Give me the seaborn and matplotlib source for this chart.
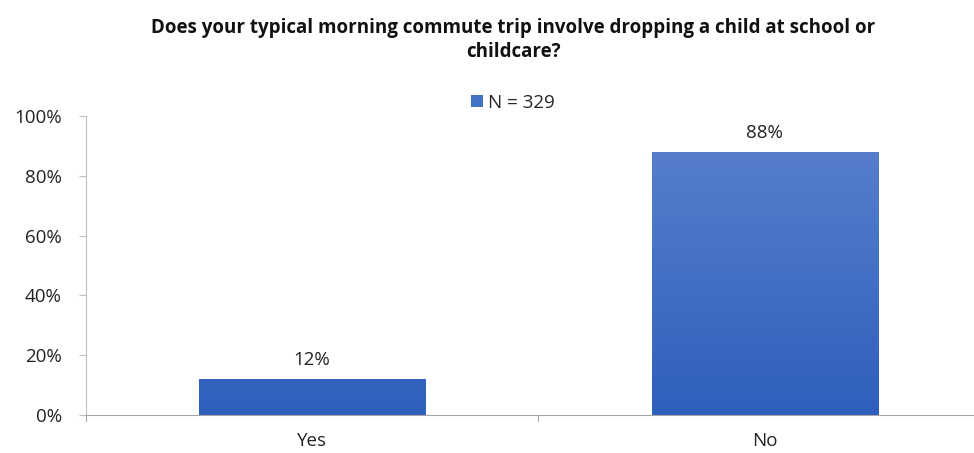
import matplotlib
matplotlib.use("Agg")
import matplotlib.pyplot as plt
import matplotlib.colors as mcolors
import numpy as np
import pandas as pd
import seaborn as sns

categories = ["Yes", "No"]
shares = [12, 88]
series_label = "N = 329"
title = "Does your typical morning commute trip involve dropping a child at school or\nchildcare?"

df = pd.DataFrame({"answer": categories, "share": shares})

sns.set_style("white")
plt.rcParams["font.family"] = ["Open Sans", "DejaVu Sans"]

fig = plt.figure(figsize=(9.74, 4.53), dpi=100)
ax = fig.add_axes([0.0878, 0.084, 0.930, 0.66])

sns.barplot(data=df, x="answer", y="share", color="#4472C4", width=0.5,
            ax=ax, label=series_label, saturation=1)

# gradient fill for each bar (lighter at top, darker at bottom)
cmap = mcolors.LinearSegmentedColormap.from_list("g", ["#2F5FBD", "#5B82CD"])
grad = np.linspace(0, 1, 256).reshape(-1, 1)
for bar in ax.patches:
    x0, y0 = bar.get_x(), bar.get_y()
    w, h = bar.get_width(), bar.get_height()
    im = ax.imshow(grad, cmap=cmap, aspect="auto", origin="lower",
                   extent=[x0, x0 + w, y0, y0 + 100], zorder=bar.get_zorder())
    im.set_clip_path(bar)
    bar.set_facecolor("none")
    bar.set_edgecolor("none")
    ax.annotate(f"{h:.0f}%", (x0 + w / 2, h), xytext=(0, 7),
                textcoords="offset points", ha="center", va="bottom",
                fontsize=13.5, color="#222222")

ax.set_xlim(-0.5, 1.5)
ax.set_ylim(0, 100)
ax.set_yticks(range(0, 101, 20))
ax.set_yticklabels([f"{v}%" for v in range(0, 101, 20)], fontsize=13.5, color="#222222")
ax.set_xticks([0, 1])
ax.set_xticklabels(categories, fontsize=13.5, color="#222222")
ax.set_xlabel("")
ax.set_ylabel("")

for s in ["top", "right"]:
    ax.spines[s].set_visible(False)
ax.spines["left"].set_color("#BFBFBF")
ax.spines["bottom"].set_color("#A6A6A6")
ax.tick_params(axis="y", length=5, color="#BFBFBF", direction="out", left=True, pad=12)
ax.tick_params(axis="x", length=0, pad=12)
# category separators on the x axis
for xs in [-0.5, 0.5, 1.5]:
    ax.plot([xs, xs], [0, -2], color="#A6A6A6", lw=0.8, clip_on=False)

leg = ax.legend(loc="upper center", bbox_to_anchor=(0.472, 1.13), frameon=False,
                handlelength=0.6, handleheight=0.6, handletextpad=0.3, fontsize=13.5)
for h in leg.legend_handles:
    h.set_facecolor("#4472C4")
    h.set_edgecolor("none")

fig.text(0.527, 0.96, title, ha="center", va="top", fontsize=13.5, fontweight="bold",
         color="#111111", linespacing=1.25)

fig.savefig("out.png", dpi=100)
